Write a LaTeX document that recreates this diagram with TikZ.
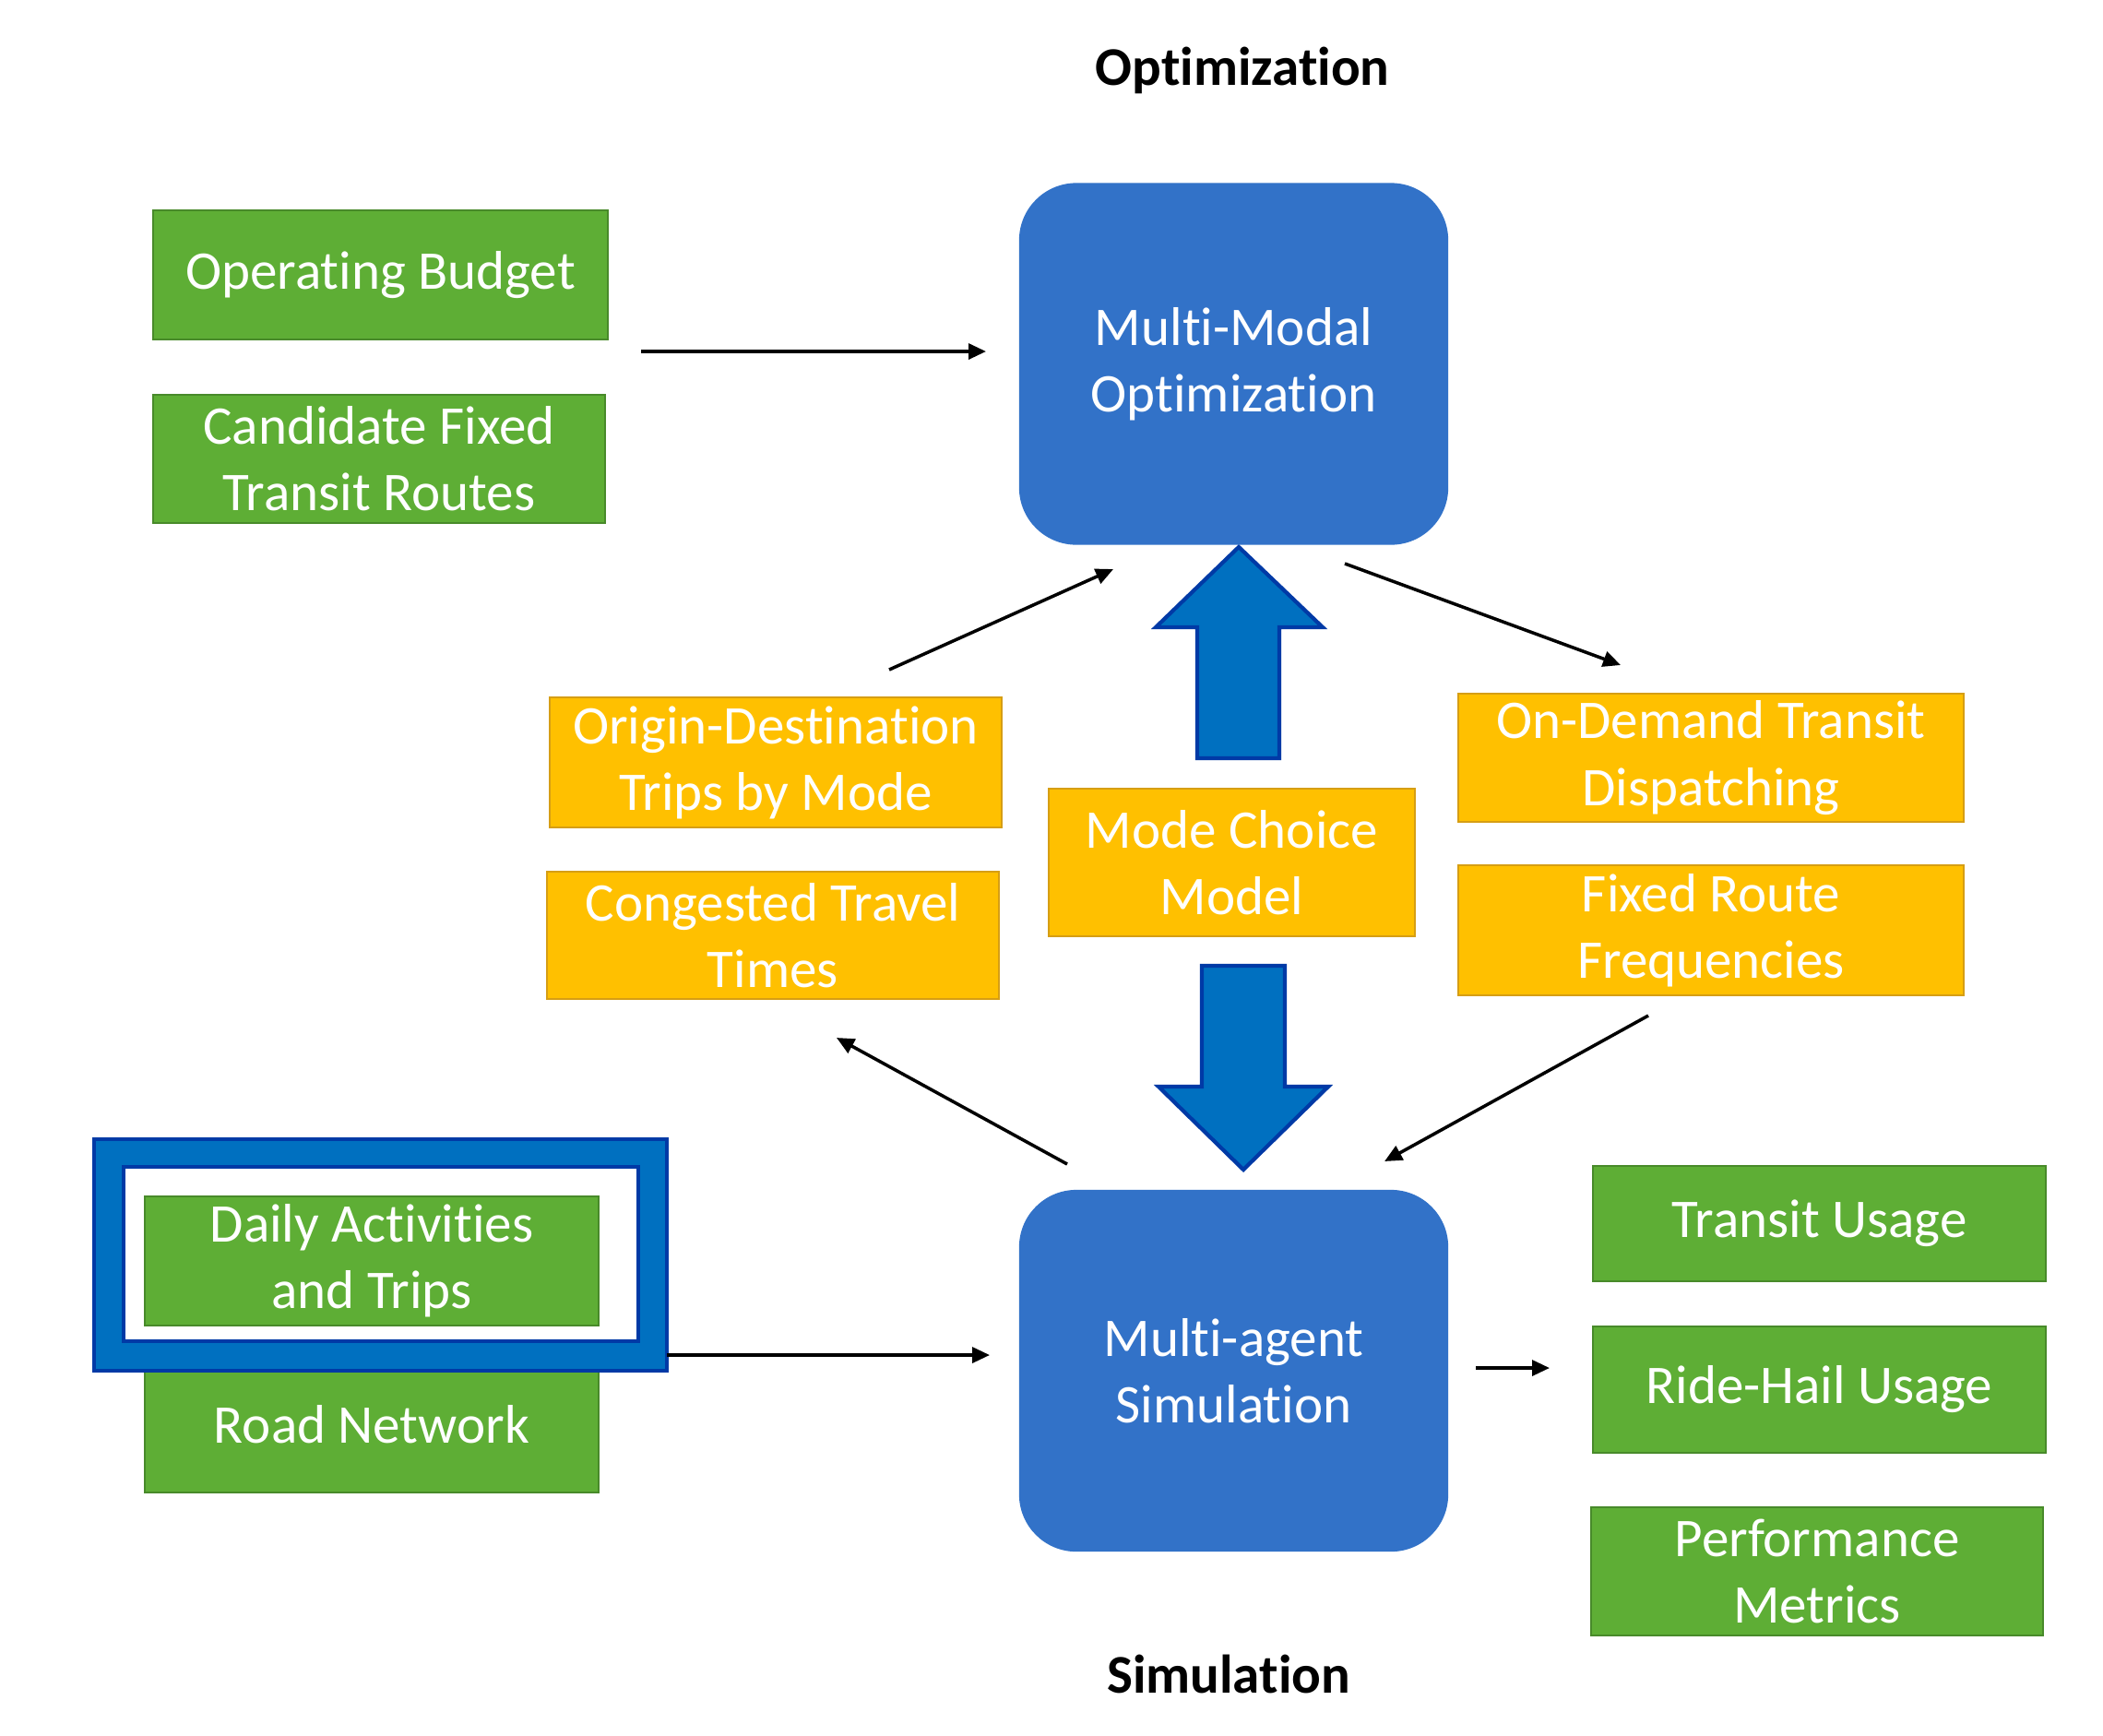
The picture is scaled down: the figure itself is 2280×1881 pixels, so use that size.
\documentclass[tikz,border=0pt]{standalone}
\usepackage{fontspec}
\setmainfont{Carlito}[Ligatures=NoCommon]
\usetikzlibrary{arrows.meta}
\definecolor{gfill}{RGB}{94,174,53}
\definecolor{gline}{RGB}{72,138,42}
\definecolor{ofill}{RGB}{255,192,0}
\definecolor{oline}{RGB}{214,158,20}
\definecolor{bbox}{RGB}{50,114,200}
\definecolor{barrow}{RGB}{0,112,192}
\definecolor{bline}{RGB}{0,58,166}
\begin{document}
\begin{tikzpicture}[x=0.01cm,y=-0.01cm,
  txt/.style={font=\fontsize{16.8}{20.5}\selectfont, text=white, align=center, inner sep=0pt},
  gbox/.style={txt, rectangle, fill=gfill, draw=gline, line width=0.6pt},
  obox/.style={txt, rectangle, fill=ofill, draw=oline, line width=0.6pt},
  rbox/.style={txt, rectangle, rounded corners=0.62cm, fill=bbox, minimum width=4.65cm, minimum height=3.92cm},
  conn/.style={line width=1pt, -{Triangle[length=5.4pt,width=4.8pt]}},
  blk/.style={fill=barrow, draw=bline, line width=1.2pt, line join=miter},
  ttl/.style={font=\fontsize{16.8}{20.5}\selectfont\bfseries, text=black, inner sep=0pt}
]
\useasboundingbox[fill=white] (0,0) rectangle (2280,1881);

% titles
\node[ttl] (topt) at (1347,76) {Optimization};
\node[ttl] (tsim) at (1332,1815) {Simulation};

% green inputs (optimization)
\node[gbox, minimum width=4.93cm, minimum height=1.40cm] (ob) at (412.5,298) {Operating Budget};
\node[gbox, minimum width=4.90cm, minimum height=1.39cm] (cfr) at (411,497.5) {Candidate Fixed\\Transit Routes};

% main blue boxes
\node[rbox] (mmo) at (1337.5,394.5) {Multi-Modal\\Optimization};
\node[rbox] (mas) at (1337.5,1486) {Multi-agent\\Simulation};

% orange boxes
\node[obox, minimum width=4.90cm, minimum height=1.41cm] (od) at (841,826.5) {Origin-Destination\\Trips by Mode};
\node[obox, minimum width=4.90cm, minimum height=1.38cm] (ctt) at (838,1014) {Congested Travel\\Times};
\node[obox, minimum width=3.97cm, minimum height=1.60cm] (mcm) at (1335.5,935) {Mode Choice\\Model};
\node[obox, minimum width=5.48cm, minimum height=1.39cm] (odt) at (1855,821.5) {On-Demand Transit\\Dispatching};
\node[obox, minimum width=5.48cm, minimum height=1.41cm] (frf) at (1855,1008.5) {Fixed Route\\Frequencies};

% simulation inputs
\node[gbox, minimum width=4.92cm, minimum height=1.48cm] (rn) at (403,1544) {Road Network};
\fill[barrow, even odd rule] (102,1235) rectangle (723,1486) (134,1265) rectangle (692,1454);
\draw[bline, line width=1.2pt] (102,1235) rectangle (723,1486);
\draw[bline, line width=1.2pt] (134,1265) rectangle (692,1454);
\node[gbox, minimum width=4.92cm, minimum height=1.40cm] (dat) at (403,1367) {Daily Activities\\and Trips};

% outputs
\node[gbox, minimum width=4.91cm, minimum height=1.25cm] (tu) at (1972.5,1326.5) {Transit Usage};
\node[gbox, minimum width=4.91cm, minimum height=1.37cm] (rhu) at (1972.5,1506.5) {Ride-Hail Usage};
\node[gbox, minimum width=4.90cm, minimum height=1.39cm] (pm) at (1970,1703.5) {Performance\\Metrics};

% block arrows
\draw[blk] (1343,593) -- (1434,680) -- (1387,680) -- (1387,822) -- (1298,822) -- (1298,680) -- (1253,680) -- cycle;
\draw[blk] (1348,1268) -- (1440,1178) -- (1393,1178) -- (1393,1047) -- (1303,1047) -- (1303,1178) -- (1256,1178) -- cycle;

% connector end points
\coordinate (a1s) at (695,381);  \coordinate (a1e) at (1069,381);
\coordinate (a2s) at (964,726);  \coordinate (a2e) at (1207,617);
\coordinate (a3s) at (1458,611); \coordinate (a3e) at (1757,721);
\coordinate (a4s) at (1157,1262);\coordinate (a4e) at (907,1125);
\coordinate (a5s) at (1787,1101);\coordinate (a5e) at (1501,1259);
\coordinate (a6s) at (723,1469); \coordinate (a6e) at (1073,1469);
\coordinate (a7s) at (1600,1483);\coordinate (a7e) at (1680,1483);

\draw[conn] (a1s) -- (a1e);
\draw[conn] (a2s) -- (a2e);
\draw[conn] (a3s) -- (a3e);
\draw[conn] (a4s) -- (a4e);
\draw[conn] (a5s) -- (a5e);
\draw[conn] (a6s) -- (a6e);
\draw[conn] (a7s) -- (a7e);
\end{tikzpicture}
\end{document}
